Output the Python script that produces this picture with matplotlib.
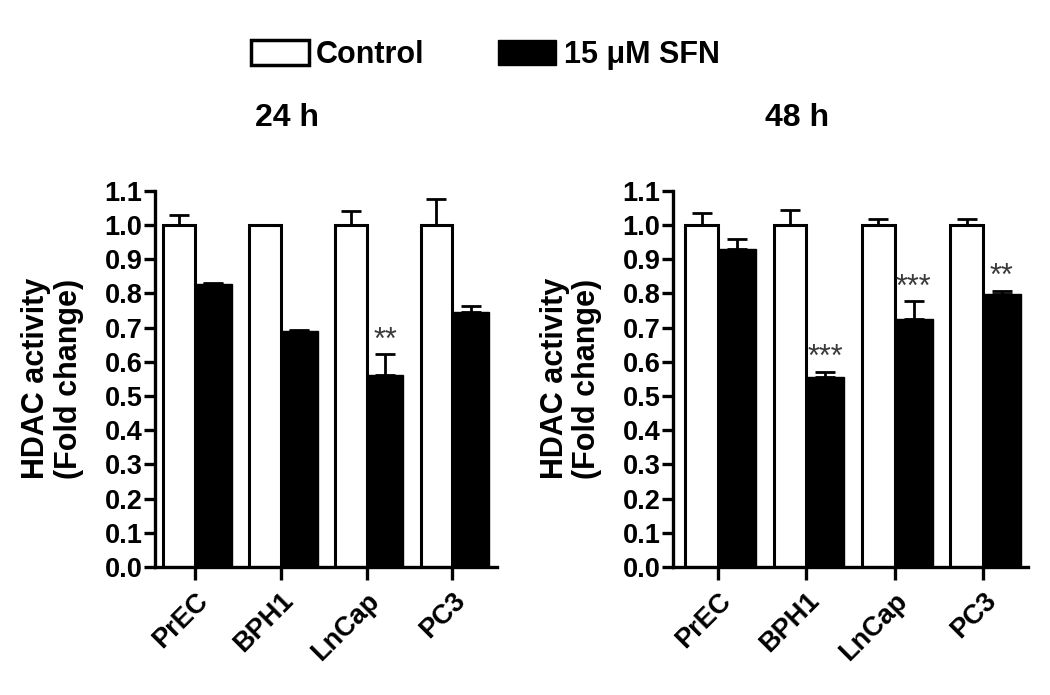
import numpy as np
import matplotlib.pyplot as plt
from matplotlib.patches import Patch

plt.rcParams['font.family'] = ['Liberation Sans', 'DejaVu Sans']
plt.rcParams['font.weight'] = 'bold'

cells = ["PrEC", "BPH1", "LnCap", "PC3"]

# 24 h
ctrl_24 = [1.0, 1.0, 1.0, 1.0]
ctrl_err_24 = [0.03, 0.0, 0.04, 0.075]
sfn_24 = [0.826, 0.69, 0.56, 0.746]
sfn_err_24 = [0.004, 0.003, 0.063, 0.018]
stars_24 = ["", "", "**", ""]

# 48 h
ctrl_48 = [1.0, 1.0, 1.0, 1.0]
ctrl_err_48 = [0.034, 0.044, 0.017, 0.017]
sfn_48 = [0.93, 0.556, 0.725, 0.797]
sfn_err_48 = [0.029, 0.015, 0.053, 0.011]
stars_48 = ["", "***", "***", "**"]

fig = plt.figure(figsize=(10.5, 6.95), dpi=100)
ax1 = fig.add_axes([0.1476, 0.1842, 0.3257, 0.5414])
ax2 = fig.add_axes([0.641, 0.1842, 0.338, 0.5414])

w_ctrl = 0.37
w_sfn = 0.43


def draw_panel(ax, ctrl, ctrl_err, sfn, sfn_err, stars, xlim):
    x = np.arange(len(cells))
    ax.bar(x, ctrl, width=-w_ctrl, align='edge', color='white',
           edgecolor='black', linewidth=2.2, zorder=2)
    ax.bar(x, sfn, width=w_sfn, align='edge', color='black',
           edgecolor='black', linewidth=1, zorder=2)
    xc = x - w_ctrl / 2
    xs = x + w_sfn / 2
    ax.errorbar(xc, ctrl, yerr=[np.zeros(len(x)), ctrl_err], fmt='none',
                ecolor='black', elinewidth=2, capsize=7, capthick=2, zorder=1)
    ax.errorbar(xs, sfn, yerr=[np.zeros(len(x)), sfn_err], fmt='none',
                ecolor='black', elinewidth=2, capsize=7, capthick=2, zorder=3)
    # significance stars
    for i, s in enumerate(stars):
        if s:
            ax.text(xs[i], sfn[i] + sfn_err[i] - 0.005, s, ha='center',
                    va='bottom', fontsize=22, fontweight='normal',
                    color='#3a3a3a')
    ax.set_xlim(*xlim)
    ax.set_ylim(0, 1.1)
    ax.set_yticks(np.arange(0, 1.11, 0.1))
    ax.set_yticklabels(["%.1f" % v for v in np.arange(0, 1.11, 0.1)])
    ax.set_xticks(x)
    ax.set_xticklabels(cells, rotation=45, ha='right', rotation_mode='anchor')
    for sp in ['top', 'right']:
        ax.spines[sp].set_visible(False)
    for sp in ['left', 'bottom']:
        ax.spines[sp].set_linewidth(2.4)
    ax.tick_params(axis='y', labelsize=19.5, width=2.4, length=8, pad=1)
    ax.tick_params(axis='x', labelsize=19.5, width=2.4, length=9, pad=6)
    ax.set_ylabel("HDAC activity\n(Fold change)", fontsize=22,
                  fontweight='bold', labelpad=15, linespacing=1.1)


draw_panel(ax1, ctrl_24, ctrl_err_24, sfn_24, sfn_err_24, stars_24, (-0.465, 3.52))
draw_panel(ax2, ctrl_48, ctrl_err_48, sfn_48, sfn_err_48, stars_48, (-0.51, 3.51))

fig.text(0.273, 0.830, "24 h", ha='center', va='center', fontsize=23, fontweight='bold')
fig.text(0.759, 0.830, "48 h", ha='center', va='center', fontsize=23, fontweight='bold')

handles = [Patch(facecolor='white', edgecolor='black', linewidth=2.5),
           Patch(facecolor='black', edgecolor='black')]
fig.legend(handles, ["Control", "15 \u03bcM SFN"], loc='center', ncol=2,
           bbox_to_anchor=(0.462, 0.921), frameon=False, fontsize=22,
           handlelength=1.9, handleheight=0.85, handletextpad=0.25,
           columnspacing=2.4)

fig.savefig("out.png", dpi=100)
